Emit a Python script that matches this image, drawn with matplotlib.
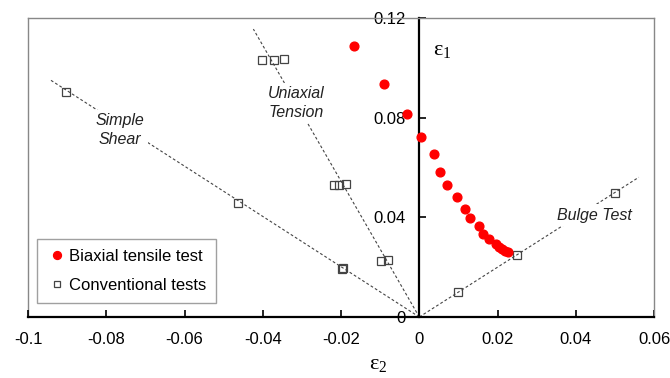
import numpy as np
import matplotlib
matplotlib.use("Agg")
import matplotlib.pyplot as plt

plt.rcParams['font.family'] = ['Liberation Sans', 'DejaVu Sans']

# biaxial tensile test (eps2, eps1)
biax_e2 = [-0.0167, -0.0090, -0.0031, 0.0005, 0.0037, 0.0054, 0.0072, 0.0097,
           0.0117, 0.0129, 0.0153, 0.0164, 0.0179, 0.0197, 0.0203, 0.0211,
           0.0220, 0.0228]
biax_e1 = [0.1087, 0.0935, 0.0817, 0.0724, 0.0653, 0.0581, 0.0528, 0.0482,
           0.0432, 0.0398, 0.0364, 0.0334, 0.0313, 0.0293, 0.0281, 0.0272,
           0.0265, 0.0260]

# conventional tests
conv_e2 = [-0.0402, -0.0372, -0.0347, -0.0217, -0.0206, -0.0187, -0.0097,
           -0.0080, -0.0196, -0.0198, -0.0903, -0.0463, 0.0100, 0.0250, 0.0501]
conv_e1 = [0.1031, 0.1031, 0.1035, 0.0528, 0.0528, 0.0534, 0.0223,
           0.0227, 0.0195, 0.0193, 0.0903, 0.0459, 0.0099, 0.0249, 0.0499]

# strain path lines (end points from origin)
path_names = ['Simple\nShear', 'Uniaxial\nTension', 'Bulge Test']
path_end_e2 = [-0.0946, -0.0424, 0.0561]
path_end_e1 = [0.0955, 0.1156, 0.0561]
label_e2 = [-0.0764, -0.0314, 0.0447]
label_e1 = [0.0750, 0.0859, 0.0409]

xticks = [-0.1, -0.08, -0.06, -0.04, -0.02, 0, 0.02, 0.04, 0.06]
xlabels = ['-0.1', '-0.08', '-0.06', '-0.04', '-0.02', '0', '0.02', '0.04', '0.06']
yticks = [0, 0.04, 0.08, 0.12]
ylabels = ['0', '0.04', '0.08', '0.12']

fig = plt.figure(figsize=(6.7, 3.78), dpi=100)
ax = fig.add_axes([0.0418, 0.1614, 0.9344, 0.7906])

for i in range(len(path_names)):
    ax.plot([0, path_end_e2[i]], [0, path_end_e1[i]], color='#444444',
            lw=0.8, ls=(0, (2.5, 2)), zorder=1)
    ax.text(label_e2[i], label_e1[i], path_names[i], style='italic',
            fontsize=11.5, ha='center', va='center', color='#222222',
            linespacing=1.3,
            bbox=dict(facecolor='white', edgecolor='none', pad=2.5), zorder=2)

ax.plot(conv_e2, conv_e1, ls='none', marker='s', ms=5.5, mfc='none',
        mec='#444444', mew=0.9, zorder=3, label='Conventional tests')
ax.plot(biax_e2, biax_e1, ls='none', marker='o', ms=6.3, color='#ff0000',
        mec='#ff0000', zorder=4, label='Biaxial tensile test')

ax.set_xlim(-0.1, 0.06)
ax.set_ylim(0, 0.12)

for s in ['top', 'right']:
    ax.spines[s].set_color('#888888')
    ax.spines[s].set_linewidth(1.0)
ax.spines['left'].set_position(('data', 0))
ax.spines['left'].set_color('black')
ax.spines['left'].set_linewidth(1.6)
ax.spines['bottom'].set_color('black')
ax.spines['bottom'].set_linewidth(1.6)
ax.axvline(-0.1, color='#888888', lw=1.0, clip_on=False, zorder=0)

ax.set_xticks(xticks)
ax.set_xticklabels(xlabels)
ax.set_yticks(yticks)
ax.set_yticklabels(ylabels)
ax.tick_params(axis='x', direction='in', length=5, width=1.2, labelsize=12, pad=11)
ax.tick_params(axis='y', direction='in', length=5, width=1.2, labelsize=12, pad=10)

ax.text(0.0036, 0.107, r'$\mathregular{\epsilon_1}$', fontsize=16,
        family='Liberation Serif', ha='left', va='center')
ax.text(0.559, -0.16, r'$\mathregular{\epsilon_2}$', fontsize=16,
        family='Liberation Serif', ha='center', va='center', transform=ax.transAxes)

handles, labels = ax.get_legend_handles_labels()
leg = ax.legend(handles[::-1], labels[::-1], loc='lower left',
                bbox_to_anchor=(0.0144, 0.047), borderaxespad=0,
                fancybox=False, edgecolor='#888888', fontsize=12,
                handletextpad=0.1, handlelength=1.2, borderpad=0.6,
                labelspacing=0.85, markerscale=0.9)
leg.get_frame().set_linewidth(1.0)

fig.savefig('out.png', dpi=100)
